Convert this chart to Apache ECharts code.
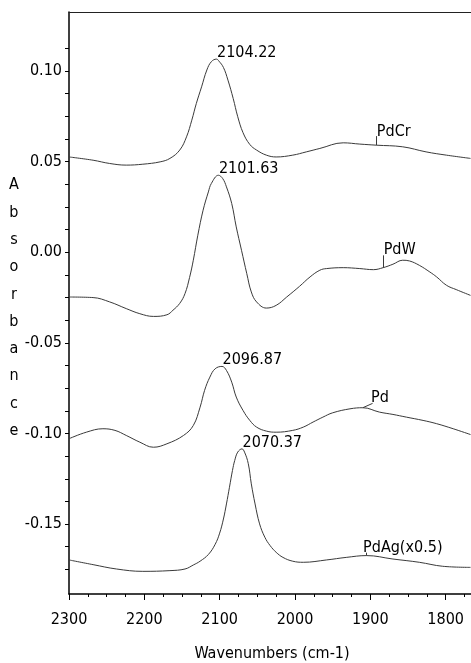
<!DOCTYPE html>
<html>
<head>
<meta charset="utf-8">
<script src="https://cdn.jsdelivr.net/npm/echarts@6/dist/echarts.min.js"></script>
<style>html,body{margin:0;padding:0;background:#fff;}#c{width:471px;height:663px;}</style>
</head>
<body>
<div id="c"></div>
<script>
// ---- data ----
const pdcrX = [2300, 2268, 2246, 2224, 2202, 2179, 2166, 2153, 2144, 2137, 2131, 2124, 2117, 2111, 2104.22, 2101, 2095, 2089, 2082, 2076, 2069, 2060, 2051, 2038, 2025, 2003, 1985, 1967, 1936, 1914, 1892, 1857, 1826, 1799, 1767];
const pdcrY = [0.0526, 0.0508, 0.0490, 0.0481, 0.0486, 0.0499, 0.0518, 0.0564, 0.0637, 0.0729, 0.0821, 0.0913, 0.1006, 0.1052, 0.1066, 0.1055, 0.1020, 0.0950, 0.0848, 0.0748, 0.0660, 0.0595, 0.0564, 0.0536, 0.0526, 0.0536, 0.0554, 0.0573, 0.0604, 0.0597, 0.0591, 0.0582, 0.0554, 0.0536, 0.0518];

const pdwX = [2300, 2268, 2246, 2224, 2206, 2188, 2170, 2162, 2153, 2146, 2140, 2135, 2129, 2122, 2115, 2111, 2101.63, 2096, 2091, 2084, 2078, 2071, 2064, 2058, 2051, 2038, 2025, 2011, 1994, 1980, 1967, 1958, 1936, 1914, 1896, 1883, 1870, 1857, 1848, 1835, 1821, 1812, 1799, 1786, 1767];
const pdwY = [-0.0247, -0.0250, -0.0274, -0.0311, -0.0339, -0.0354, -0.0345, -0.0320, -0.0282, -0.0228, -0.0140, -0.0044, 0.0094, 0.0232, 0.0333, 0.0380, 0.0425, 0.0407, 0.0361, 0.0269, 0.0140, 0.0011, -0.0118, -0.0219, -0.0274, -0.0308, -0.0293, -0.0247, -0.0188, -0.0136, -0.0099, -0.0090, -0.0085, -0.0090, -0.0096, -0.0085, -0.0066, -0.0044, -0.0048, -0.0072, -0.0109, -0.0136, -0.0182, -0.0206, -0.0238];

const pdX = [2300, 2277, 2255, 2239, 2224, 2206, 2188, 2170, 2148, 2135, 2126, 2120, 2113, 2106, 2096.87, 2091, 2084, 2078, 2069, 2060, 2051, 2038, 2025, 2003, 1989, 1976, 1963, 1950, 1927, 1910, 1888, 1870, 1852, 1830, 1812, 1790, 1767];
const pdY = [-0.1029, -0.0993, -0.0974, -0.0983, -0.1011, -0.1048, -0.1076, -0.1057, -0.1011, -0.0956, -0.0855, -0.0762, -0.0689, -0.0643, -0.0630, -0.0652, -0.0717, -0.0799, -0.0873, -0.0928, -0.0965, -0.0987, -0.0993, -0.0983, -0.0965, -0.0937, -0.0910, -0.0886, -0.0864, -0.0858, -0.0882, -0.0895, -0.0910, -0.0928, -0.0946, -0.0974, -0.1006];

const pdagX = [2300, 2268, 2237, 2202, 2166, 2146, 2135, 2126, 2115, 2106, 2100, 2095, 2091, 2087, 2083, 2080, 2076, 2070.37, 2067, 2062, 2058, 2053, 2047, 2040, 2033, 2025, 2016, 2003, 1989, 1958, 1932, 1905, 1870, 1835, 1804, 1767];
const pdagY = [-0.1698, -0.1724, -0.1748, -0.1761, -0.1757, -0.1748, -0.1726, -0.1705, -0.1668, -0.1612, -0.1550, -0.1472, -0.1389, -0.1297, -0.1204, -0.1149, -0.1103, -0.1085, -0.1103, -0.1167, -0.1278, -0.1389, -0.1499, -0.1573, -0.1619, -0.1656, -0.1684, -0.1705, -0.1711, -0.1698, -0.1684, -0.1674, -0.1693, -0.1711, -0.1733, -0.1739];

const seriesNames = ['PdCr', 'PdW', 'Pd', 'PdAg(x0.5)'];
const peakPositions = [2104.22, 2101.63, 2096.87, 2070.37];
// series-name tag: point on curve and end of the short leader
const tagFrom = [[1892, 0.0591], [1883, -0.0085], [1910, -0.0858], [1905, -0.1674]];
const tagTo   = [[1892, 0.0641], [1883, -0.0017], [1897, -0.0834], [1905, -0.1658]];

const xLabelValues = [2300, 2200, 2100, 2000, 1900, 1800];
const yLabelValues = [-0.15, -0.10, -0.05, 0.00, 0.05, 0.10];
const yTickValues = [-0.175, -0.1625, -0.15, -0.1375, -0.125, -0.1125, -0.10, -0.0875, -0.075, -0.0625, -0.05, -0.0375, -0.025, -0.0125, 0, 0.0125, 0.025, 0.0375, 0.05, 0.0625, 0.075, 0.0875, 0.10, 0.1125];
const yTitleLetters = ['A', 'b', 's', 'o', 'r', 'b', 'a', 'n', 'c', 'e'];

// ---- chart ----
const FONT = "'Liberation Sans Narrow', 'Arial Narrow', 'DejaVu Sans Condensed', sans-serif";
const FS = 16;
const lineColor = '#3a3a3a';
const tagOffsets = [[1, 4], [1, 3], [-1, 3], [-3, 4]];

const xs = [pdcrX, pdwX, pdX, pdagX];
const ys = [pdcrY, pdwY, pdY, pdagY];

const series = seriesNames.map((name, i) => {
  const data = xs[i].map((x, j) => [x, ys[i][j]]);
  const pk = peakPositions[i];
  const pkY = ys[i][xs[i].indexOf(pk)];
  return {
    name: name,
    type: 'line',
    showSymbol: false,
    smooth: 0.4,
    animation: false,
    lineStyle: { color: lineColor, width: 1 },
    data: data,
    markPoint: {
      symbol: 'circle',
      symbolSize: 1,
      itemStyle: { color: 'rgba(0,0,0,0)' },
      silent: true,
      label: {
        show: true, color: '#000', fontFamily: FONT, fontSize: FS,
        align: 'left', verticalAlign: 'bottom'
      },
      data: [
        { coord: [pk, pkY], label: { formatter: pk.toFixed(2), position: [1, 2] } },
        { coord: tagTo[i], label: { formatter: name, position: tagOffsets[i] } }
      ]
    },
    markLine: {
      symbol: ['none', 'none'],
      silent: true,
      animation: false,
      label: { show: false },
      lineStyle: { color: lineColor, width: 1, type: 'solid' },
      data: [[{ coord: tagFrom[i] }, { coord: tagTo[i] }]]
    }
  };
});

const chart = echarts.init(document.getElementById('c'), null, { renderer: 'canvas' });
chart.setOption({
  animation: false,
  backgroundColor: '#fff',
  grid: { left: 69, top: 12, right: -50, bottom: 69, containLabel: false, outerBoundsMode: 'none' },
  xAxis: [{
    type: 'value', min: 1700, max: 2300, inverse: true, interval: 100,
    position: 'bottom',
    name: 'Wavenumbers (cm-1)', nameLocation: 'middle', nameGap: 52,
    nameTextStyle: { fontFamily: FONT, fontSize: FS, color: '#000', padding: [0, 46, 0, 0] },
    axisLine: { show: true, onZero: false, lineStyle: { color: '#000', width: 1.5 } },
    axisTick: { show: true, length: 6, lineStyle: { color: '#000', width: 1 } },
    minorTick: { show: true, splitNumber: 4, length: 3, lineStyle: { color: '#000', width: 1 } },
    axisLabel: {
      margin: 18, fontFamily: FONT, fontSize: FS, color: '#000',
      formatter: v => xLabelValues.indexOf(v) >= 0 ? String(v) : ''
    },
    splitLine: { show: false }, minorSplitLine: { show: false }
  }, {
    type: 'value', min: 1700, max: 2300, inverse: true, position: 'top',
    axisLine: { show: true, onZero: false, lineStyle: { color: '#222', width: 1 } },
    axisTick: { show: false }, axisLabel: { show: false }, splitLine: { show: false }
  }],
  yAxis: {
    type: 'value', min: -0.1886, max: 0.1326,
    name: '{s| }\n' + yTitleLetters.join('\n'), nameLocation: 'middle', nameGap: 55, nameRotate: 0,
    nameTextStyle: {
      fontFamily: FONT, fontSize: FS, color: '#000', lineHeight: 27.3, align: 'center', verticalAlign: 'middle',
      rich: { s: { fontSize: 4, lineHeight: 10, height: 10 } }
    },
    axisLine: { show: true, onZero: false, lineStyle: { color: '#000', width: 1.5 } },
    axisTick: { show: true, length: 4, customValues: yTickValues, lineStyle: { color: '#000', width: 1 } },
    axisLabel: {
      margin: 7, fontFamily: FONT, fontSize: FS, color: '#000',
      customValues: yLabelValues,
      formatter: v => v.toFixed(2)
    },
    splitLine: { show: false }
  },
  series: series
});
</script>
</body>
</html>
